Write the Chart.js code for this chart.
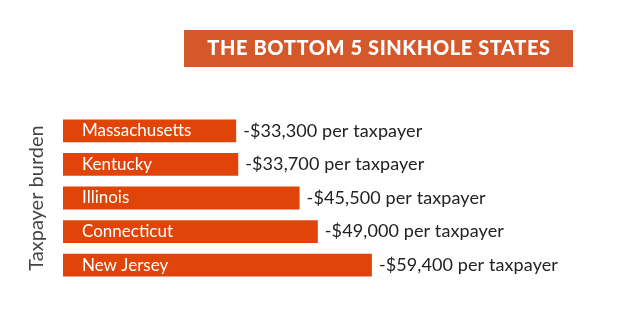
<!DOCTYPE html>
<html>
<head>
<meta charset="utf-8">
<script src="https://cdn.jsdelivr.net/npm/chart.js@4"></script>
<style>
  html, body { margin: 0; padding: 0; background: #fff; }
  #wrap { width: 641px; height: 319px; position: relative; }
</style>
</head>
<body>
<div id="wrap"><canvas id="chart"></canvas></div>
<script>
// Taxpayer burden for the five worst states
const states = ['Massachusetts', 'Kentucky', 'Illinois', 'Connecticut', 'New Jersey'];
const burden = [33300, 33700, 45500, 49000, 59400];
const valueLabels = ['-$33,300 per taxpayer', '-$33,700 per taxpayer', '-$45,500 per taxpayer', '-$49,000 per taxpayer', '-$59,400 per taxpayer'];
const chartTitle = 'THE BOTTOM 5 SINKHOLE STATES';

const FONT = 'Lato, "Open Sans", sans-serif';
const BAR_COLOR = '#e04408';
const TITLE_BG = '#d5582b';

// title banner + labels in and beside the bars
const barLabels = {
  id: 'barLabels',
  beforeDraw(chart) {
    const ctx = chart.ctx;
    ctx.save();
    ctx.fillStyle = TITLE_BG;
    ctx.fillRect(184, 30, 389, 37);
    ctx.fillStyle = '#fff';
    ctx.font = '900 20px ' + FONT;
    ctx.letterSpacing = '0.6px';
    ctx.textAlign = 'center';
    ctx.textBaseline = 'middle';
    ctx.fillText(chartTitle, 379, 49);
    ctx.restore();
  },
  afterDatasetsDraw(chart) {
    const ctx = chart.ctx;
    const meta = chart.getDatasetMeta(0);
    ctx.save();
    ctx.textBaseline = 'middle';
    meta.data.forEach((bar, i) => {
      ctx.font = '17px ' + FONT;
      ctx.letterSpacing = '0px';
      ctx.fillStyle = '#fff';
      ctx.fillText(states[i], chart.chartArea.left + 19, bar.y);
      ctx.font = '18px ' + FONT;
      ctx.letterSpacing = '0.1px';
      ctx.fillStyle = '#222';
      ctx.fillText(valueLabels[i], bar.x + 7, bar.y);
    });
    ctx.restore();
  }
};

new Chart(document.getElementById('chart'), {
  type: 'bar',
  data: {
    labels: states,
    datasets: [{
      data: burden,
      backgroundColor: BAR_COLOR,
      borderWidth: 0,
      categoryPercentage: 1,
      barPercentage: 0.68
    }]
  },
  options: {
    indexAxis: 'y',
    responsive: true,
    maintainAspectRatio: false,
    animation: false,
    layout: { padding: { top: 114, bottom: 37, left: 20, right: 6 } },
    plugins: { legend: { display: false }, tooltip: { enabled: false }, title: { display: false } },
    scales: {
      x: { display: false, min: 0, max: 110000 },
      y: {
        grid: { display: false, drawTicks: false },
        border: { display: false },
        ticks: { display: false },
        title: {
          display: true,
          text: 'Taxpayer burden',
          color: '#444',
          font: { family: FONT, size: 20 },
          padding: { top: 5, bottom: 14 }
        }
      }
    }
  },
  plugins: [barLabels]
});
</script>
</body>
</html>
